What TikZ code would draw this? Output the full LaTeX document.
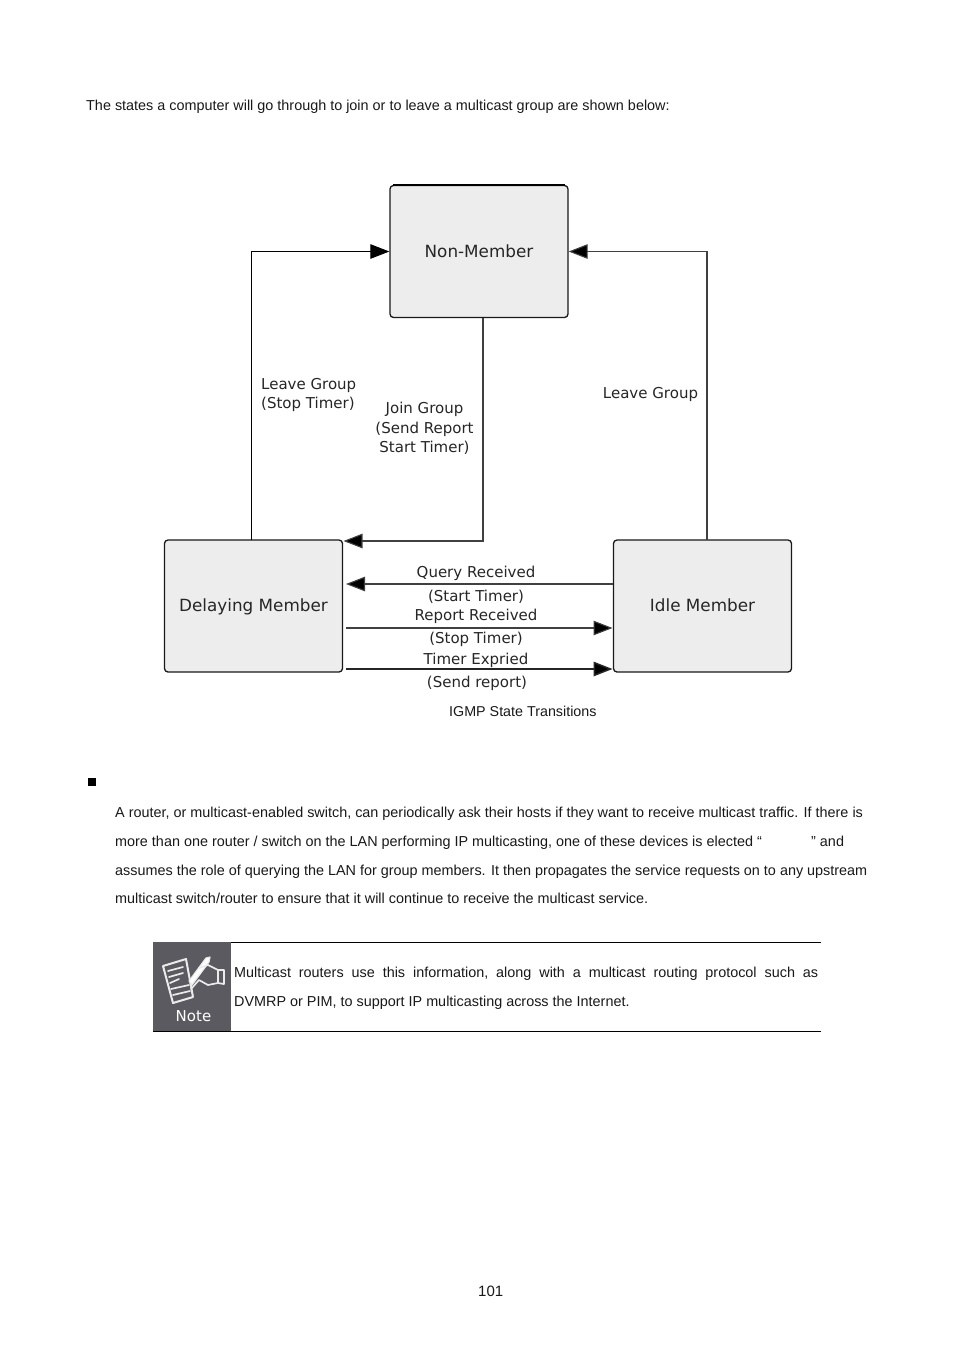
\documentclass[tikz,border=0pt]{standalone}
\usepackage{fontspec}
\setmainfont{Liberation Sans}
\newfontfamily\diag{DejaVu Sans}
\usetikzlibrary{arrows.meta}
\definecolor{boxfill}{HTML}{EDEDED}
\definecolor{notegrey}{HTML}{5A5A60}
\tikzset{
  state/.style={draw=black!90,line width=1.3pt,fill=boxfill,rounded corners=3.5pt,minimum width=178pt,minimum height=132pt,inner sep=0pt,font=\diag\fontsize{16.8}{20}\selectfont,text=black!85,text height=14.5pt,text depth=3.5pt},
  conn/.style={draw=black!75,line width=1.1pt,-{Triangle[length=19pt,width=14.5pt,fill=black]}},
  lab/.style={font=\diag\fontsize{15}{19.4}\selectfont,text=black!85,inner sep=0pt,align=center},
  body/.style={font=\fontsize{14.4}{17}\selectfont,anchor=base west,inner sep=0pt,text=black!90},
  rulel/.style={draw=black,line width=1pt},
  iconl/.style={draw=white!92!black,line width=2pt,line cap=round,line join=round}
}
\begin{document}
\begin{tikzpicture}[x=1pt,y=-1pt]
\useasboundingbox[fill=white] (0,0) rectangle (954,1350);
\node[body] (intro) at (86,110) {The states a computer will go through to join or to leave a multicast group are shown below:};
% states
\node[state] (nm) at (479,251.5) {Non-Member};
\draw[black,line width=1.8pt] ([xshift=4pt]nm.north west) -- ([xshift=-4pt]nm.north east);
\node[state] (dm) at (253.5,606) {Delaying Member};
\node[state] (im) at (702.5,606) {Idle Member};
% free ends
\coordinate (a1) at (251,539.5);
\coordinate (a2) at (707,539.5);
\coordinate (a3) at (483,318);
\coordinate (a4) at (343.5,541);
\coordinate (q1) at (613,584);
\coordinate (q2) at (346,584);
\coordinate (r1) at (346,628);
\coordinate (r2) at (612.5,628);
\coordinate (t1) at (346,669);
\coordinate (t2) at (612.5,669);
\draw[conn,draw=black,line width=0.9pt] (a1) |- (nm.west);
\draw[conn] (a2) |- (nm.east);
\draw[conn] (a3) |- (a4);
\draw[conn] (q1) -- (q2);
\draw[conn] (r1) -- (r2);
\draw[conn,line width=1.5pt,draw=black!85] (t1) -- (t2);
% labels
\node[lab,align=left,anchor=north west] (l1) at (261,378) {Leave Group\\(Stop Timer)};
\node[lab] (l2) at (424.5,428.5) {Join Group\\(Send Report\\Start Timer)};
\node[lab] (l3) at (650.5,394) {Leave Group};
\node[lab] (q3) at (476,573.5) {Query Received};
\node[lab] (q4) at (476,597) {(Start Timer)};
\node[lab] (r3) at (476,616.5) {Report Received};
\node[lab] (r4) at (476,639.5) {(Stop Timer)};
\node[lab] (t3) at (476,660) {Timer Expried};
\node[lab] (t4) at (477,683) {(Send report)};
\node[body,font=\fontsize{14.3}{17}\selectfont] (cap) at (449,716) {IGMP State Transitions};
% bullet
\node[fill=black,minimum size=8pt,inner sep=0pt] (bul) at (91.5,782) {};
% paragraph
\node[body] (p1) at (115,817) {A router, or multicast-enabled switch, can periodically ask their hosts if they want to receive multicast traffic. If there is};
\node[body] (p2) at (115,846) {more than one router / switch on the LAN performing IP multicasting, one of these devices is elected “};
\node[body] (p2b) at (811,846) {” and};
\node[body] (p3) at (115,875) {assumes the role of querying the LAN for group members. It then propagates the service requests on to any upstream};
\node[body] (p4) at (115,903) {multicast switch/router to ensure that it will continue to receive the multicast service.};
% note
\node[fill=notegrey,minimum width=78pt,minimum height=90pt,inner sep=0pt] (nbox) at (192,987) {};
\draw[rulel] (231,942.5) -- (821,942.5);
\draw[rulel] (153,1031.5) -- (821,1031.5);
\node[body] (n1) at (234,977) {\hbox to 584pt{Multicast\hfill routers\hfill use\hfill this\hfill information,\hfill along\hfill with\hfill a\hfill multicast\hfill routing\hfill protocol\hfill such\hfill as}};
\node[body] (n2) at (234,1006) {DVMRP or PIM, to support IP multicasting across the Internet.};
% note icon
\draw[iconl,fill=notegrey] (163,966) -- (186,959) -- (193,997) -- (173,1003) -- cycle;
\foreach \x/\y/\w in {168/971/15,169/977/14,170/983/9,171/989/18,173/995/17}{
  \draw[iconl,line width=1.7pt] (\x,\y) -- ++(\w,-4);
}
\draw[iconl,fill=white,line width=1.2pt] (189,981) -- (206,958) -- (210,957) -- (209,962) -- (192,985) -- cycle;
\draw[iconl,line width=1.7pt] (199,968) -- (208,965) -- (218,970) -- (218,983) -- (208,985) -- (199,980) -- (191,989);
\draw[iconl,line width=1.7pt] (218,970) -- (224,970) -- (224,984) -- (218,983);
\node[font=\diag\fontsize{15}{18}\selectfont,text=white,inner sep=0pt] (nt) at (193.5,1016) {Note};
% page number
\node[body,font=\fontsize{15}{17}\selectfont] (pg) at (478,1296) {101};
\end{tikzpicture}
\end{document}
